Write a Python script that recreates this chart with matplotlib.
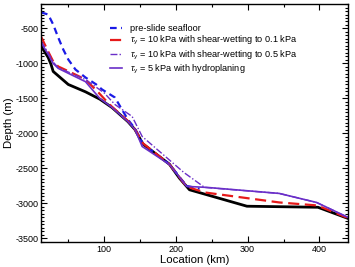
import numpy as np
import matplotlib
matplotlib.use("Agg")
from matplotlib import pyplot as plt
from matplotlib.ticker import MultipleLocator

plt.rcParams['font.family'] = ['Liberation Sans', 'DejaVu Sans']
plt.rcParams['axes.unicode_minus'] = False
plt.rcParams['mathtext.fontset'] = 'custom'
plt.rcParams['mathtext.rm'] = 'Liberation Sans'
plt.rcParams['mathtext.it'] = 'Liberation Sans:italic'

# post-slide seafloor (black)
x_post = [12, 22, 26, 29, 50, 74, 94, 111, 133, 143, 154, 191, 205, 219, 299, 398, 440]
y_post = [-750, -914, -1014, -1114, -1300, -1405, -1510, -1630, -1830, -1945, -2150, -2440, -2640, -2805, -3040, -3055, -3215]

# pre-slide seafloor (blue dashed)
x_pre = [12, 22, 29, 36, 43, 50, 60, 74, 89, 97, 115, 133, 143, 154, 191, 215, 233]
y_pre = [-270, -300, -443, -629, -800, -943, -1086, -1200, -1300, -1371, -1486, -1800, -1930, -2150, -2440, -2750, -2790]

# tau_y = 10 kPa, shear-wetting to 0.1 kPa (red dashed)
x_red = [12, 22, 29, 36, 54, 74, 92, 101, 111, 133, 143, 154, 191, 215, 240, 344, 397, 440]
y_red = [-614, -829, -971, -1043, -1129, -1229, -1414, -1514, -1620, -1820, -1943, -2140, -2440, -2760, -2843, -2986, -3029, -3210]

# tau_y = 10 kPa, shear-wetting to 0.5 kPa (purple dash-dot)
x_dd = [12, 22, 29, 36, 54, 74, 100, 115, 139, 153, 211, 240, 344, 396, 440]
y_dd = [-680, -850, -980, -1060, -1140, -1230, -1420, -1586, -1757, -2043, -2557, -2771, -2857, -2986, -3200]

# tau_y = 5 kPa with hydroplaning (purple solid)
x_hyd = [12, 22, 29, 36, 54, 74, 94, 111, 133, 143, 153, 191, 215, 243, 344, 396, 440]
y_hyd = [-700, -870, -1000, -1070, -1160, -1260, -1500, -1629, -1829, -1943, -2186, -2443, -2757, -2771, -2857, -2986, -3200]

labels = ["pre-slide seafloor",
          r"$\tau_{\rm y}$ = 10 kPa with shear-wetting to 0.1 kPa",
          r"$\tau_{\rm y}$ = 10 kPa with shear-wetting to 0.5 kPa",
          r"$\tau_{\rm y}$ = 5 kPa with hydroplaning"]

purple = "#6a2fc8"

fig = plt.figure(figsize=(3.55, 2.67), dpi=100)
ax = fig.add_axes([0.1155, 0.094, 0.865, 0.891])

ax.plot(x_post, y_post, color="black", lw=2.0)
ax.plot(x_pre, y_pre, color="#1a1ae6", lw=1.6, ls=(0, (3, 2)), label=labels[0])
ax.plot(x_red, y_red, color="#e61a1a", lw=1.6, ls=(0, (5, 2.5)), label=labels[1])
ax.plot(x_dd, y_dd, color=purple, lw=1.0, ls=(0, (5, 1.5, 1, 1.5)), label=labels[2])
ax.plot(x_hyd, y_hyd, color=purple, lw=1.2, label=labels[3])

ax.set_xlim(12, 440)
ax.set_ylim(-3550, -150)
ax.xaxis.set_major_locator(MultipleLocator(100))
ax.xaxis.set_minor_locator(MultipleLocator(50))
ax.yaxis.set_major_locator(MultipleLocator(500))
ax.yaxis.set_minor_locator(MultipleLocator(50))
ax.tick_params(which="both", direction="in", top=True, right=True, labelsize=6.5, width=0.8, pad=2)
ax.tick_params(which="major", length=4)
ax.tick_params(which="minor", length=2)
for s in ax.spines.values():
    s.set_linewidth(1.0)

ax.set_xlabel("Location (km)", fontsize=8.2, labelpad=1)
ax.set_ylabel("Depth (m)", fontsize=8.2, labelpad=1)

ax.legend(loc="upper left", bbox_to_anchor=(0.205, 0.942), frameon=False, fontsize=6.6,
          handlelength=1.3, labelspacing=0.12, handletextpad=0.8, borderpad=0.2)

fig.savefig("out.png", dpi=100)
